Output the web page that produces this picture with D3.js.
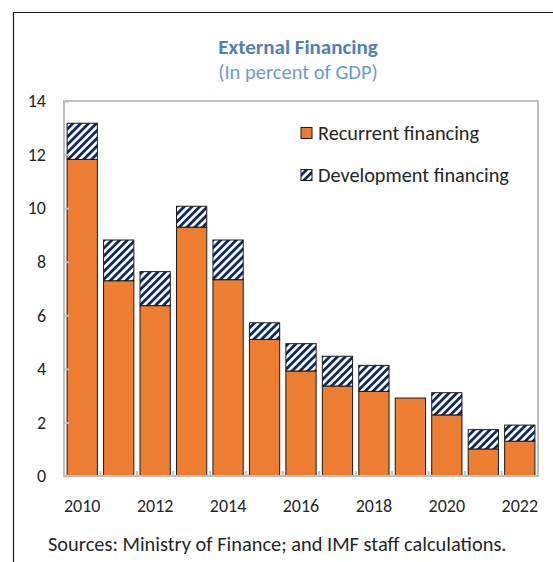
<!DOCTYPE html>
<html>
<head>
<meta charset="utf-8">
<script src="https://cdn.jsdelivr.net/npm/d3@7"></script>
<style>
  html, body { margin: 0; padding: 0; background: #fff; }
  svg { display: block; }
  text { font-family: Carlito, Calibri, Lato, "Open Sans", sans-serif; }
</style>
</head>
<body>
<svg id="chart" width="553" height="562"></svg>
<script>
// ---- data ----
const years = [2010, 2011, 2012, 2013, 2014, 2015, 2016, 2017, 2018, 2019, 2020, 2021, 2022];
const recurrent = [11.82, 7.29, 6.36, 9.29, 7.33, 5.10, 3.92, 3.36, 3.16, 2.91, 2.28, 1.01, 1.30];
const development = [1.35, 1.52, 1.27, 0.78, 1.48, 0.62, 1.02, 1.11, 0.97, 0.00, 0.83, 0.72, 0.60];
const yTicks = [0, 2, 4, 6, 8, 10, 12, 14];
const xLabels = [2010, 2012, 2014, 2016, 2018, 2020, 2022];
const seriesNames = ["Recurrent financing", "Development financing"];
const title = "External Financing";
const subtitle = "(In percent of GDP)";
const source = "Sources: Ministry of Finance; and IMF staff calculations.";

// ---- layout ----
const W = 553, H = 562;
const plot = { left: 64, right: 538, top: 101, bottom: 476 };
const orange = "#ED7D31", navy = "#0d2a66", axisGray = "#bfbfbf", textCol = "#262626";

const svg = d3.select("#chart");

// hatch pattern
const defs = svg.append("defs");
const pat = defs.append("pattern")
  .attr("id", "hatch").attr("patternUnits", "userSpaceOnUse")
  .attr("width", 5.5).attr("height", 5.5)
  .attr("patternTransform", "rotate(45)");
pat.append("rect").attr("width", 5.5).attr("height", 5.5).attr("fill", "#fff");
pat.append("rect").attr("x", 0).attr("y", 0).attr("width", 2.8).attr("height", 5.5).attr("fill", navy);

// outer frame (left and top)
svg.append("path")
  .attr("d", `M13.5,${H} L13.5,12.5 L${W},12.5`)
  .attr("fill", "none").attr("stroke", "#1a1a1a").attr("stroke-width", 1.2);

// title
svg.append("text").attr("x", 298).attr("y", 54)
  .attr("text-anchor", "middle").attr("font-weight", "bold")
  .attr("font-size", 21).attr("fill", "#4f81b5").text(title);
svg.append("text").attr("x", 298).attr("y", 79)
  .attr("text-anchor", "middle")
  .attr("font-size", 20.5).attr("fill", "#6a9cca").text(subtitle);

// scales
const x = d3.scaleBand().domain(years).range([plot.left, plot.right])
  .paddingInner(0.17).paddingOuter(0.085);
const y = d3.scaleLinear().domain([0, 14]).range([plot.bottom, plot.top]);

// stacked data
const rows = years.map((yr, i) => ({ year: yr, recurrent: recurrent[i], development: development[i] }));
const stack = d3.stack().keys(["recurrent", "development"])(rows);

const g = svg.append("g");
stack.forEach(layer => {
  g.selectAll(null).data(layer.filter(d => d[1] - d[0] > 0)).enter().append("rect")
    .attr("x", d => x(d.data.year))
    .attr("width", x.bandwidth())
    .attr("y", d => y(d[1]))
    .attr("height", d => y(d[0]) - y(d[1]))
    .attr("fill", layer.key === "recurrent" ? orange : "url(#hatch)")
    .attr("stroke", "#1a1a1a").attr("stroke-width", 1);
});

// plot frame
svg.append("rect")
  .attr("x", plot.left).attr("y", plot.top)
  .attr("width", plot.right - plot.left).attr("height", plot.bottom - plot.top)
  .attr("fill", "none").attr("stroke", axisGray).attr("stroke-width", 2);

// y axis
const yAxis = d3.axisRight(y).tickValues(yTicks).tickSize(5).tickFormat("");
const yg = svg.append("g").attr("transform", `translate(${plot.left},0)`).call(yAxis);
yg.select(".domain").remove();
yg.selectAll(".tick line").attr("stroke", axisGray).attr("stroke-width", 2);
svg.append("g").selectAll("text").data(yTicks).enter().append("text")
  .attr("x", 46).attr("y", d => y(d)).attr("dy", "0.35em")
  .attr("text-anchor", "end").attr("font-size", 18).attr("fill", textCol)
  .text(d => d);

// x axis ticks (band boundaries, pointing up)
const bounds = years.slice(1).map(yr => x(yr) - (x.step() - x.bandwidth()) / 2);
svg.append("g").selectAll("line").data(bounds).enter().append("line")
  .attr("x1", d => d).attr("x2", d => d)
  .attr("y1", plot.bottom).attr("y2", plot.bottom - 5)
  .attr("stroke", axisGray).attr("stroke-width", 2);
svg.append("g").selectAll("text").data(xLabels).enter().append("text")
  .attr("x", d => x(d) + x.bandwidth() / 2).attr("y", 512)
  .attr("text-anchor", "middle").attr("font-size", 18).attr("fill", textCol)
  .text(d => d);

// legend
const legend = svg.append("g");
const legY = [133, 175];
seriesNames.forEach((name, i) => {
  legend.append("rect").attr("x", 301).attr("y", legY[i] - 5.5)
    .attr("width", 11).attr("height", 11)
    .attr("fill", i === 0 ? orange : "url(#hatch)")
    .attr("stroke", "#1a1a1a").attr("stroke-width", 1);
  legend.append("text").attr("x", 318).attr("y", legY[i]).attr("dy", "0.35em")
    .attr("font-size", 20.3).attr("fill", textCol).text(name);
});

// source
svg.append("text").attr("x", 48).attr("y", 551)
  .attr("font-size", 20.4).attr("fill", textCol).text(source);
</script>
</body>
</html>
